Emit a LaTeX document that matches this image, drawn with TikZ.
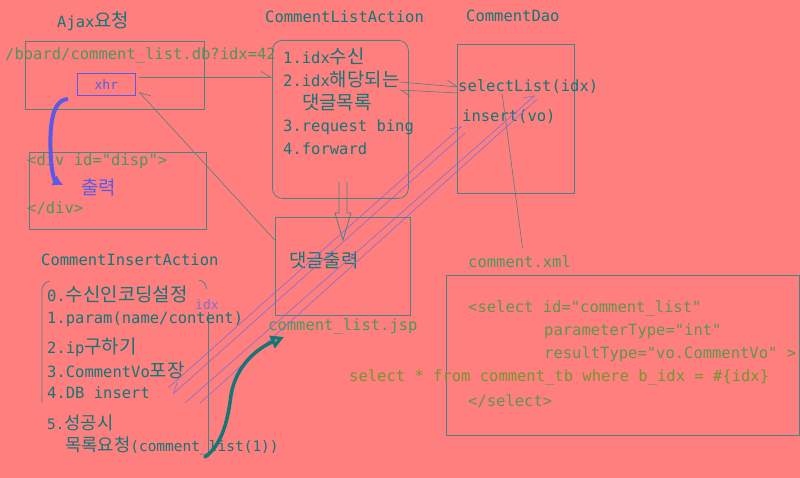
\documentclass[tikz,border=0pt]{standalone}
\usepackage{fontspec}
\setmonofont{DejaVu Sans Mono}
\renewcommand\familydefault{\ttdefault}
\newfontfamily\krfont{Noto Sans CJK KR}[Scale=1.22]
\newcommand\hk[1]{{\krfont #1}}
\usetikzlibrary{arrows.meta}
\definecolor{bg}{RGB}{255,127,127}
\definecolor{ink}{RGB}{20,118,118}
\definecolor{boxline}{RGB}{80,128,128}
\definecolor{codegreen}{RGB}{75,150,95}
\definecolor{xmlgreen}{RGB}{95,150,75}
\definecolor{sqlgreen}{RGB}{115,150,45}
\definecolor{pen}{RGB}{90,90,230}
\definecolor{wirecol}{RGB}{125,110,210}

\begin{document}
\begin{tikzpicture}[x=1pt,y=-1pt,
  txt/.style={anchor=west,inner sep=0pt,text=ink,font=\fontsize{15.5}{18}\selectfont},
  small/.style={txt,font=\fontsize{14.5}{17}\selectfont},
  code/.style={txt,text=codegreen},
  box/.style={draw=boxline,line width=.8pt,anchor=north west,inner sep=0pt},
  wire/.style={draw=boxline,line width=.6pt},
  purple/.style={draw=wirecol,line width=.6pt},
  tip/.style={-{Straight Barb[harpoon,length=10pt,width=12pt]}},
  tipr/.style={-{Straight Barb[harpoon,swap,length=10pt,width=12pt]}}]
   \fill[bg] (0,0) rectangle (800,478);
   \useasboundingbox (0,0) rectangle (800,478);
   % Ajax side
   \node[txt] (ajaxT) at (57,21) {Ajax\hk{요청}};
   \node[box,minimum width=179pt,minimum height=68pt] (ajax) at (25,41) {};
   \node[code] (url) at (5,55) {/board/comment\_list.db?idx=42};
   \node[box,draw=pen,minimum width=58pt,minimum height=22pt,text=pen,font=\fontsize{13}{15}\selectfont] (xhr) at (77,73) {xhr};
   \node[box,minimum width=177pt,minimum height=77pt] (disp) at (29,152) {};
   \node[code] (divA) at (27,161) {<div id="disp">};
   \node[txt,text=pen] (out) at (81,187) {\hk{출력}};
   \node[code] (divB) at (27,208) {</div>};
   % CommentListAction
   \node[txt] (listT) at (265,17) {CommentListAction};
   \node[box,rounded corners=10pt,minimum width=136pt,minimum height=158pt] (list) at (272,40) {};
   \node[txt] (l1) at (283,56) {1.idx\hk{수신}};
   \node[txt] (l2) at (283,79) {2.idx\hk{해당되는}};
   \node[txt] (l2b) at (302,102) {\hk{댓글목록}};
   \node[txt] (l3) at (283,127) {3.request bing};
   \node[txt] (l4) at (283,149) {4.forward};
   % comment_list.jsp
   \node[box,minimum width=135pt,minimum height=98pt] (jsp) at (275,217) {};
   \node[txt] (jspOut) at (289,260) {\hk{댓글출력}};
   \node[code] (jspT) at (268,326) {comment\_list.jsp};
   % CommentDao
   \node[txt] (daoT) at (466,16) {CommentDao};
   \node[box,minimum width=117pt,minimum height=149pt] (dao) at (457,44) {};
   \node[txt] (sel) at (458,87) {selectList(idx)};
   \node[txt] (ins) at (462,117) {insert(vo)};
   % comment.xml
   \node[code] (xmlT) at (468,262) {comment.xml};
   \node[box,minimum width=353pt,minimum height=160pt] (xml) at (446,275) {};
   \node[txt,text=xmlgreen] (x1) at (468,308) {<select id="comment\_list"};
   \node[txt,text=xmlgreen] (x2) at (544,331) {parameterType="int"};
   \node[txt,text=xmlgreen] (x3) at (544,354) {resultType="vo.CommentVo" >};
   \node[txt,text=sqlgreen] (x4) at (349,377) {select * from comment\_tb where b\_idx = \#\{idx\}};
   \node[txt,text=xmlgreen] (x5) at (468,401) {</select>};
   % CommentInsertAction
   \node[txt] (insT) at (41,260) {CommentInsertAction};
   \draw[boxline,line width=.8pt] (42,403) -- (42,290) arc[start angle=180,end angle=100,radius=9pt];
   \draw[boxline,line width=.8pt] (199,280) arc[start angle=80,end angle=0,radius=9pt];
   \draw[boxline,line width=.8pt] (208,312) -- (208,457);
   \node[txt] (c0) at (47,294) {0.\hk{수신인코딩설정}};
   \node[small,font=\fontsize{13}{15}\selectfont,text=wirecol] (idx) at (195,305) {idx};
   \node[txt] (c1) at (47,319) {1.param(name/content)};
   \node[txt] (c2) at (47,347) {2.ip\hk{구하기}};
   \node[txt] (c3) at (47,370) {3.CommentVo\hk{포장}};
   \node[txt] (c4) at (47,393) {4.DB insert};
   \node[small] (c5) at (47,423) {5.\hk{성공시}};
   \node[small] (c5b) at (65,446) {\hk{목록요청}(comment\_list(1))};
   % connectors
   \draw[wire,tip] ([xshift=3pt,yshift=7pt]xhr.east) -- ([yshift=7pt]xhr.east -| list.west);
   \draw[wire,tipr] ([yshift=26pt]jsp.west) -- ([shift={(3pt,4pt)}]xhr.south east);
   \draw[wire,tip] ([yshift=-3pt]l2.east) -- (sel.west);
   \draw[wire,tip] ([yshift=-6pt]sel.west) -- ([yshift=-11pt]l2.east);
   \draw[wire] ([xshift=-26pt]sel.south) -- ([shift={(3pt,8pt)}]xmlT.north);
   \coordinate (ln1) at (168,388);
   \coordinate (ln2) at (173,394);
   \coordinate (ln3) at (185,403);
   \coordinate (ln4) at (200,403);
   \draw[purple,tip] (ln1) -- ([yshift=-9pt]ins.west);
   \draw[purple,tipr] ([shift={(3pt,-16pt)}]ins.west) -- (ln2);
   \draw[purple,tip] (ln3) -- ([xshift=7pt,yshift=-1pt]sel.south);
   \draw[purple] (ln4) -- ([xshift=9pt,yshift=-5pt]sel.south);
   % forward arrow
   \coordinate (fwd) at (343,182);
   \coordinate (fwdTip) at (343,240);
   \draw[boxline,line width=.8pt] ([xshift=-4pt]fwd) -- ++(0,31) -- ++(-4,0) -- (fwdTip) -- ++(8,-27) -- ++(-4,0) -- ([xshift=4pt]fwd);
   % hand drawn arrows
   \coordinate (penS) at (68,99);
   \coordinate (penE) at (63,185);
   \draw[pen,line width=4pt,-{Latex[length=10pt,width=12pt]}] (penS) .. controls (48,100) and (50,140) .. (51,160) .. controls (52,175) and (55,181) .. (penE);
   \coordinate (tealS) at (205,457);
   \coordinate (tealE) at (284,337);
   \draw[ink,line width=3.5pt,line cap=round,-{Triangle[open,length=13pt,width=13pt]}] (tealS) .. controls (222,445) and (228,420) .. (231,395) .. controls (236,365) and (258,348) .. (tealE);
\end{tikzpicture}
\end{document}
